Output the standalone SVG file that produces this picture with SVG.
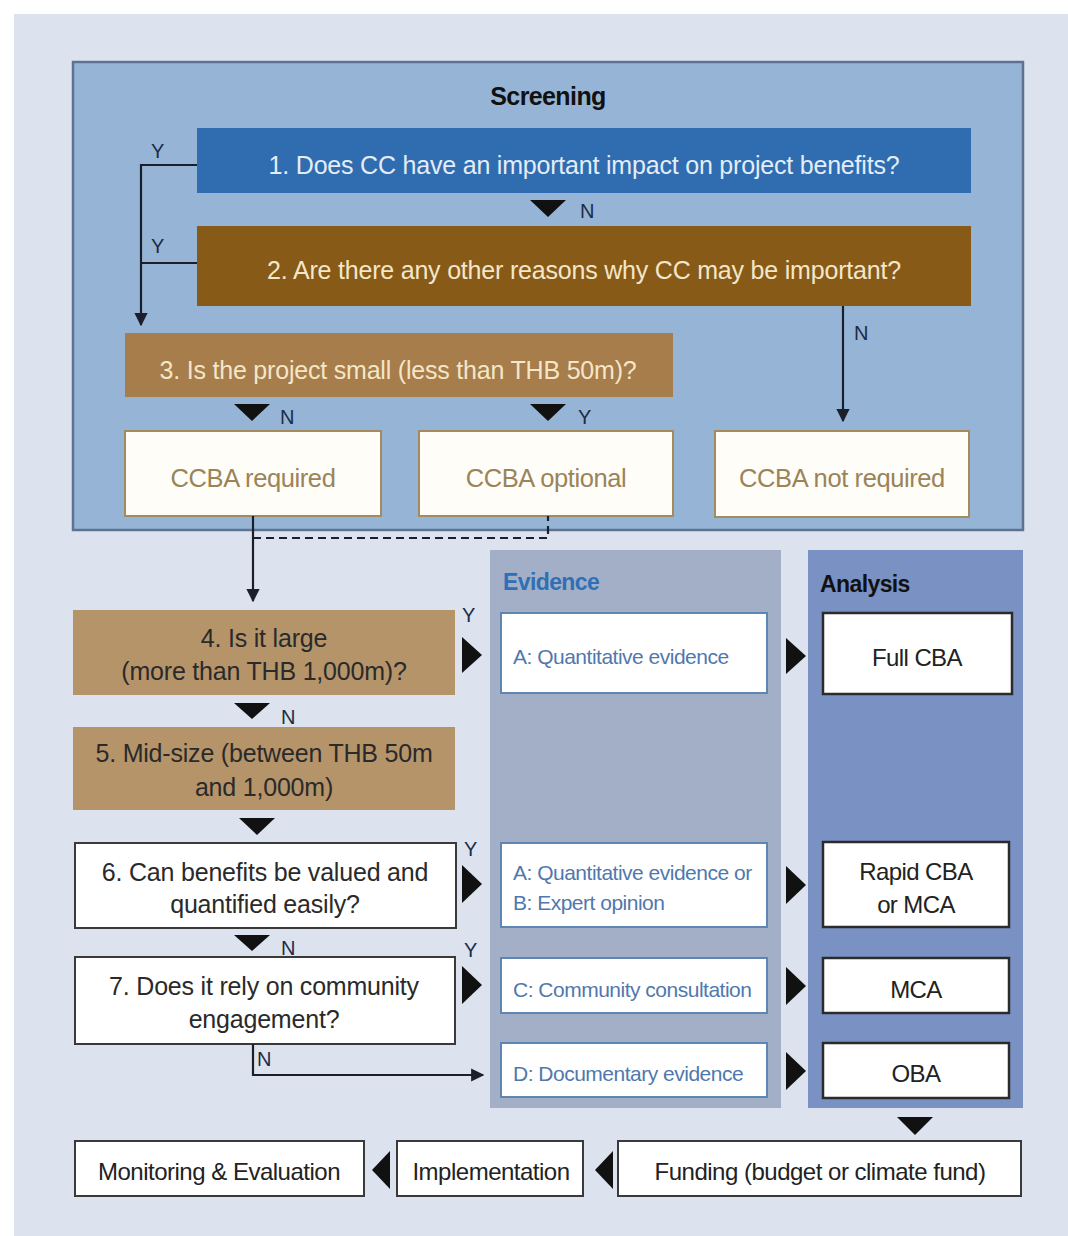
<svg xmlns="http://www.w3.org/2000/svg" width="1068" height="1236" viewBox="0 0 1068 1236">
<defs>
<style>
text{font-family:"Liberation Sans",Arial,sans-serif;}
.q{font-size:25px;letter-spacing:-0.2px;text-anchor:middle;}
.lt{fill:#e4ecf7;}
.cr{fill:#f4e6c9;}
.dk{fill:#2a2a2a;}
.ccba{fill:#fffdf8;stroke:#a48b5e;stroke-width:2;}
.ccbat{font-size:25.5px;letter-spacing:-0.4px;fill:#9a8458;text-anchor:middle;}
.tan{fill:#b5946a;}
.wb{fill:#ffffff;stroke:#3a3a3a;stroke-width:2;}
.ev{fill:#ffffff;stroke:#5d86b5;stroke-width:2;}
.evt{font-size:21px;letter-spacing:-0.5px;fill:#5078ad;}
.an{fill:#ffffff;stroke:#2b2b2b;stroke-width:2.5;}
.ant{font-size:24px;letter-spacing:-0.6px;fill:#222;text-anchor:middle;}
.bt{font-size:24px;letter-spacing:-0.5px;fill:#222;text-anchor:middle;}
.hd{font-weight:bold;letter-spacing:-0.6px;}
.lab{font-size:20px;fill:#1d2b45;}
.ln{fill:none;stroke:#1a1f2b;stroke-width:2.2;}
.tri{fill:#111;}
</style>
<marker id="ah" viewBox="0 0 10 10" refX="9" refY="5" markerWidth="6" markerHeight="6" markerUnits="strokeWidth" orient="auto">
<path d="M0,0 L10,5 L0,10 z" fill="#1a1f2b"/>
</marker>
</defs>

<rect x="0" y="0" width="1068" height="1236" fill="#ffffff"/>
<rect x="14" y="14" width="1054" height="1222" fill="#dce3ef"/>

<g id="screening">
<rect x="73" y="62" width="950" height="468" fill="#96b5d6" stroke="#5e7391" stroke-width="2.5"/>
<text x="548" y="105" class="hd" font-size="25" text-anchor="middle" fill="#111">Screening</text>
</g>

<g id="q1">
<rect x="197" y="128" width="774" height="65" fill="#2f6db0"/>
<text x="584" y="174" class="q lt">1. Does CC have an important impact on project benefits?</text>
</g>
<g id="q2">
<rect x="197" y="226" width="774" height="80" fill="#875a18"/>
<text x="584" y="279" class="q cr">2. Are there any other reasons why CC may be important?</text>
</g>
<g id="q3">
<rect x="125" y="333" width="548" height="64" fill="#a67d4b"/>
<text x="398" y="379" class="q cr">3. Is the project small (less than THB 50m)?</text>
</g>
<g id="ccba-required">
<rect x="125" y="431" width="256" height="85" class="ccba"/>
<text x="253" y="487" class="ccbat">CCBA required</text>
</g>
<g id="ccba-optional">
<rect x="419" y="431" width="254" height="85" class="ccba"/>
<text x="546" y="487" class="ccbat">CCBA optional</text>
</g>
<g id="ccba-not-required">
<rect x="715" y="431" width="254" height="86" class="ccba"/>
<text x="842" y="487" class="ccbat">CCBA not required</text>
</g>

<g id="evidence-panel">
<rect x="490" y="550" width="291" height="558" fill="#a3afc7"/>
<text x="503" y="590" class="hd" font-size="23" fill="#2f6fb5">Evidence</text>
</g>
<g id="analysis-panel">
<rect x="808" y="550" width="215" height="558" fill="#7a92c3"/>
<text x="820" y="592" class="hd" font-size="23" fill="#111">Analysis</text>
</g>

<g id="q4">
<rect x="73" y="610" width="382" height="85" class="tan"/>
<text x="264" y="647" class="q dk">4. Is it large</text>
<text x="264" y="680" class="q dk">(more than THB 1,000m)?</text>
</g>
<g id="q5">
<rect x="73" y="727" width="382" height="83" class="tan"/>
<text x="264" y="762" class="q dk">5. Mid-size (between THB 50m</text>
<text x="264" y="796" class="q dk">and 1,000m)</text>
</g>
<g id="q6">
<rect x="75" y="843" width="381" height="85" class="wb"/>
<text x="265" y="881" class="q dk">6. Can benefits be valued and</text>
<text x="265" y="913" class="q dk">quantified easily?</text>
</g>
<g id="q7">
<rect x="75" y="957" width="380" height="87" class="wb"/>
<text x="264" y="995" class="q dk">7. Does it rely on community</text>
<text x="264" y="1028" class="q dk">engagement?</text>
</g>

<g id="ev-a">
<rect x="501" y="613" width="266" height="80" class="ev"/>
<text x="513" y="664" class="evt">A: Quantitative evidence</text>
</g>
<g id="ev-ab">
<rect x="501" y="843" width="266" height="84" class="ev"/>
<text x="513" y="880" class="evt">A: Quantitative evidence or</text>
<text x="513" y="910" class="evt">B: Expert opinion</text>
</g>
<g id="ev-c">
<rect x="501" y="958" width="266" height="55" class="ev"/>
<text x="513" y="997" class="evt">C: Community consultation</text>
</g>
<g id="ev-d">
<rect x="501" y="1043" width="266" height="54" class="ev"/>
<text x="513" y="1081" class="evt">D: Documentary evidence</text>
</g>

<g id="full-cba">
<rect x="823" y="613" width="189" height="81" class="an"/>
<text x="917" y="666" class="ant" font-size="25.5">Full CBA</text>
</g>
<g id="rapid-cba">
<rect x="823" y="842" width="186" height="85" class="an"/>
<text x="916" y="880" class="ant">Rapid CBA</text>
<text x="916" y="913" class="ant">or MCA</text>
</g>
<g id="mca">
<rect x="823" y="958" width="186" height="55" class="an"/>
<text x="916" y="998" class="ant">MCA</text>
</g>
<g id="oba">
<rect x="823" y="1043" width="186" height="55" class="an"/>
<text x="916" y="1082" class="ant">OBA</text>
</g>

<g id="funding">
<rect x="618" y="1141" width="403" height="55" class="wb"/>
<text x="820" y="1180" class="bt">Funding (budget or climate fund)</text>
</g>
<g id="implementation">
<rect x="397" y="1141" width="186" height="55" class="wb"/>
<text x="491" y="1180" class="bt">Implementation</text>
</g>
<g id="monitoring">
<rect x="75" y="1141" width="289" height="55" class="wb"/>
<text x="219" y="1180" class="bt">Monitoring &amp; Evaluation</text>
</g>

<g id="connectors">
<path class="ln" d="M197,165 H141 V325" marker-end="url(#ah)"/>
<path class="ln" d="M197,263 H141"/>
<text x="151" y="158" class="lab">Y</text>
<text x="151" y="253" class="lab">Y</text>
<path class="tri" d="M530,200 H566 L548,217 z"/>
<text x="580" y="218" class="lab">N</text>
<path class="ln" d="M843,306 V421" marker-end="url(#ah)"/>
<text x="854" y="340" class="lab">N</text>
<path class="tri" d="M234,404 H270 L252,421 z"/>
<text x="280" y="424" class="lab">N</text>
<path class="tri" d="M530,404 H566 L548,421 z"/>
<text x="578" y="424" class="lab">Y</text>
<path class="ln" d="M253,516 V601" marker-end="url(#ah)"/>
<path class="ln" d="M253,538 H548 V516" stroke-dasharray="8,5"/>
<path class="tri" d="M462,637 L482,655 L462,673 z"/>
<text x="462" y="622" class="lab">Y</text>
<path class="tri" d="M786,638 L806,656 L786,674 z"/>
<path class="tri" d="M234,703 H270 L252,719 z"/>
<text x="281" y="724" class="lab">N</text>
<path class="tri" d="M239,818 H275 L257,835 z"/>
<path class="tri" d="M462,865 L482,884 L462,903 z"/>
<text x="464" y="856" class="lab">Y</text>
<path class="tri" d="M786,866 L806,885 L786,904 z"/>
<path class="tri" d="M234,935 H270 L252,951 z"/>
<text x="281" y="955" class="lab">N</text>
<path class="tri" d="M462,966 L482,985 L462,1004 z"/>
<text x="464" y="957" class="lab">Y</text>
<path class="tri" d="M786,967 L806,986 L786,1005 z"/>
<path class="ln" d="M253,1044 V1075 H483" marker-end="url(#ah)"/>
<text x="257" y="1066" class="lab">N</text>
<path class="tri" d="M786,1052 L806,1071 L786,1090 z"/>
<path class="tri" d="M897,1117 H933 L915,1135 z"/>
<path class="tri" d="M613,1151 L595,1170 L613,1189 z"/>
<path class="tri" d="M390,1151 L372,1170 L390,1189 z"/>
</g>
</svg>
